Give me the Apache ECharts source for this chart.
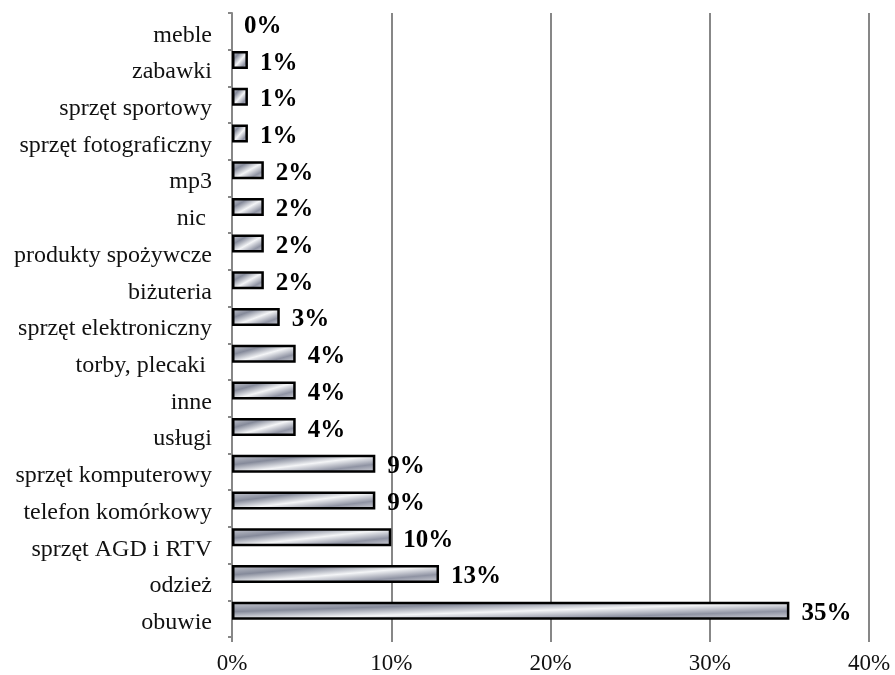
<!DOCTYPE html>
<html>
<head>
<meta charset="utf-8">
<script src="https://cdn.jsdelivr.net/npm/echarts@6/dist/echarts.min.js"></script>
<style>
html,body{margin:0;padding:0;background:#fff;}
#chart{width:895px;height:675px;}
</style>
</head>
<body>
<div id="chart"></div>
<script>
// Categories listed bottom to top
const categories = [
  'obuwie', 'odzież', 'sprzęt AGD i RTV', 'telefon komórkowy', 'sprzęt komputerowy',
  'usługi', 'inne', 'torby, plecaki ', 'sprzęt elektroniczny', 'biżuteria',
  'produkty spożywcze', 'nic ', 'mp3', 'sprzęt fotograficzny', 'sprzęt sportowy',
  'zabawki', 'meble'
];
const values = [35, 13, 10, 9, 9, 4, 4, 4, 3, 2, 2, 2, 2, 1, 1, 1, 0];
const xTicks = [0, 10, 20, 30, 40];

const GRID = { left: 232, right: 26, top: 13, bottom: 38 };
const plotW = 895 - GRID.left - GRID.right;
const xMax = xTicks[xTicks.length - 1];
const BAR_H = 18;

function barFill(v) {
  const W = Math.max(v / xMax * plotW, 1);
  const H = BAR_H;
  const L2 = W * W + H * H;
  return {
    type: 'linear', x: 0, y: 0, x2: 2 * H * H / L2, y2: 2 * W * W / L2,
    colorStops: [
      { offset: 0, color: '#c9cbd3' },
      { offset: 0.28, color: '#858a9a' },
      { offset: 0.52, color: '#f4f5f7' },
      { offset: 0.76, color: '#8f93a3' },
      { offset: 1, color: '#d6d7dd' }
    ]
  };
}

const serif = '"Liberation Serif", "Times New Roman", serif';
const chart = echarts.init(document.getElementById('chart'), null, { renderer: 'canvas' });
chart.setOption({
  backgroundColor: '#ffffff',
  animation: false,
  grid: GRID,
  xAxis: {
    type: 'value', min: 0, max: xMax, interval: 10,
    axisLine: { show: false },
    axisTick: { show: true, length: 5, lineStyle: { color: '#878787', width: 2 } },
    splitLine: { show: true, lineStyle: { color: '#878787', width: 2 } },
    axisLabel: { formatter: '{value}%', fontFamily: serif, fontSize: 23, color: '#111', margin: 15 }
  },
  yAxis: {
    type: 'category', data: categories,
    axisLine: { show: true, lineStyle: { color: '#878787', width: 2 } },
    axisTick: { show: true, length: 4, lineStyle: { color: '#878787', width: 2 } },
    axisLabel: {
      margin: 20,
      formatter: v => '{a|' + v + '}',
      rich: { a: { fontFamily: serif, fontSize: 24, color: '#111', padding: [8, 0, 0, 0] } }
    }
  },
  series: [
    {
      type: 'bar',
      data: values.map(v => ({
        value: v,
        itemStyle: { color: barFill(v), borderColor: '#000', borderWidth: v === 0 ? 0 : 2.5 }
      })),
      barWidth: BAR_H,
      barGap: '0%',
      label: {
        show: true, position: 'right', distance: 12, offset: [0, 3],
        formatter: '{c}%', fontFamily: serif, fontSize: 25, fontWeight: 'bold', color: '#000'
      }
    },
    {
      type: 'bar',
      data: values.map(() => 0),
      barWidth: 16,
      itemStyle: { color: 'rgba(0,0,0,0)' },
      silent: true
    }
  ]
});
</script>
</body>
</html>
